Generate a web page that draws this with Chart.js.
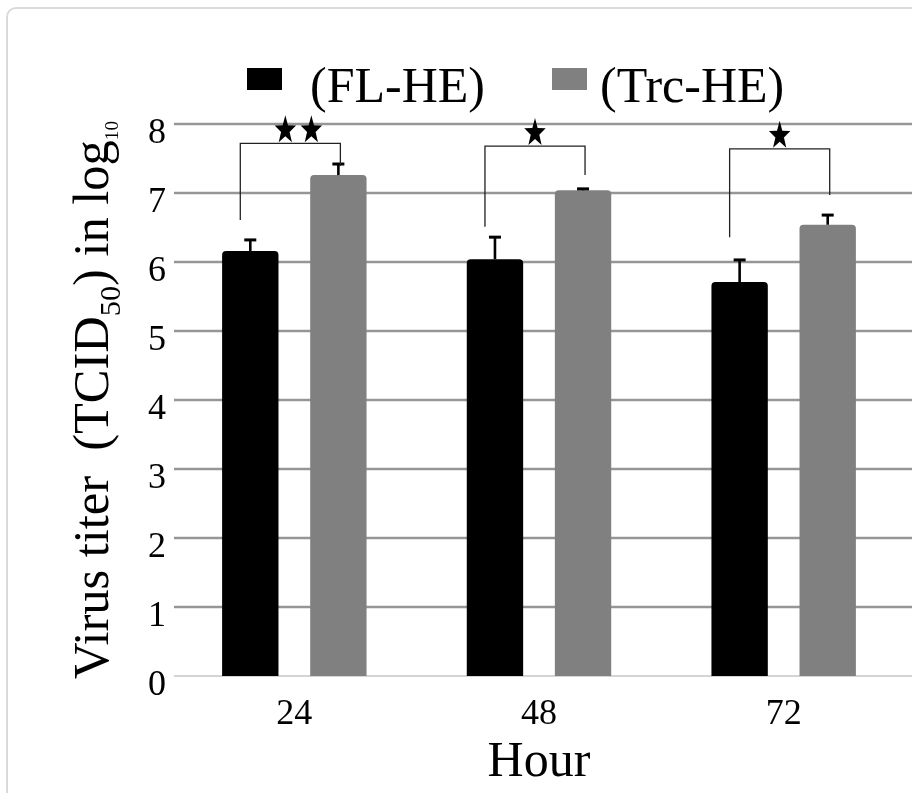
<!DOCTYPE html>
<html><head><meta charset="utf-8">
<script src="https://cdn.jsdelivr.net/npm/chart.js@4.4.1/dist/chart.umd.min.js"></script>
<style>
html,body{margin:0;padding:0;background:#fff;}
#wrap{position:relative;width:912px;height:793px;overflow:hidden;}
#frame{position:absolute;left:6px;top:7px;width:960px;height:840px;border:2px solid #dadada;border-radius:10px;box-sizing:border-box;}
canvas{position:absolute;left:0;top:0;}
</style></head><body>
<div id="wrap"><div id="frame"></div><canvas id="c" width="912" height="793"></canvas></div>
<script>
const categories = ['24', '48', '72'];
const seriesNames = ['(FL-HE)', '(Trc-HE)'];
const flValues = [6.16, 6.04, 5.71];
const trcValues = [7.26, 7.04, 6.54];
const flErrors = [0.16, 0.32, 0.32];
const trcErrors = [0.16, 0.02, 0.14];
const yTickValues = [0, 1, 2, 3, 4, 5, 6, 7, 8];
const bracketTop = [7.72, 7.68, 7.64];
const bracketLeftEnd = [6.61, 6.51, 6.36];
const bracketRightEnd = [7.39, 7.26, 6.97];
const starCounts = [2, 1, 1];
const xTitle = 'Hour';

const SERIF = '"Liberation Serif", "Times New Roman", serif';
const colors = ['#000000', '#808080'];
const errors = [flErrors, trcErrors];

const gridPlugin = {
  id: 'customGrid',
  beforeDatasetsDraw(chart) {
    const {ctx, chartArea, scales} = chart;
    ctx.save();
    yTickValues.forEach(v => {
      const y = scales.y.getPixelForValue(v);
      ctx.beginPath();
      if (v === 0) { ctx.strokeStyle = '#d4d4d4'; ctx.lineWidth = 2; }
      else { ctx.strokeStyle = '#969696'; ctx.lineWidth = 2.6; }
      ctx.moveTo(chartArea.left + 2, y);
      ctx.lineTo(chart.width, y);
      ctx.stroke();
    });
    ctx.restore();
  }
};

const errorPlugin = {
  id: 'errorBars',
  afterDatasetsDraw(chart) {
    const {ctx, scales} = chart;
    ctx.save();
    ctx.strokeStyle = '#000';
    chart.data.datasets.forEach((ds, i) => {
      const meta = chart.getDatasetMeta(i);
      meta.data.forEach((bar, j) => {
        const yTop = scales.y.getPixelForValue(ds.data[j] + errors[i][j]);
        ctx.beginPath();
        ctx.lineWidth = 2.6;
        ctx.moveTo(bar.x, bar.y);
        ctx.lineTo(bar.x, yTop);
        ctx.stroke();
        ctx.beginPath();
        ctx.lineWidth = 3;
        ctx.moveTo(bar.x - 6, yTop);
        ctx.lineTo(bar.x + 6, yTop);
        ctx.stroke();
      });
    });
    ctx.restore();
  }
};

function drawStar(ctx, cx, cy, R) {
  const r = R * 0.4;
  ctx.beginPath();
  for (let k = 0; k < 10; k++) {
    const ang = -Math.PI / 2 + k * Math.PI / 5;
    const rad = k % 2 === 0 ? R : r;
    const px = cx + Math.cos(ang) * rad * 0.75;
    const py = cy + Math.sin(ang) * rad;
    if (k === 0) ctx.moveTo(px, py); else ctx.lineTo(px, py);
  }
  ctx.closePath();
  ctx.fill();
}

const bracketPlugin = {
  id: 'brackets',
  afterDatasetsDraw(chart) {
    const {ctx, scales} = chart;
    const m0 = chart.getDatasetMeta(0), m1 = chart.getDatasetMeta(1);
    ctx.save();
    ctx.strokeStyle = '#222';
    ctx.fillStyle = '#000';
    ctx.lineWidth = 1.3;
    categories.forEach((c, j) => {
      const xl = m0.data[j].x - 10;
      const xr = m1.data[j].x + 2;
      const yt = scales.y.getPixelForValue(bracketTop[j]);
      const yl = scales.y.getPixelForValue(bracketLeftEnd[j]);
      const yr = scales.y.getPixelForValue(bracketRightEnd[j]);
      ctx.beginPath();
      ctx.moveTo(xl, yl); ctx.lineTo(xl, yt); ctx.lineTo(xr, yt); ctx.lineTo(xr, yr);
      ctx.stroke();
      const n = starCounts[j];
      const cx = (xl + xr) / 2 + (n > 1 ? 8 : 0);
      const R = 15;
      const cy = yt - 1 - R * Math.cos(Math.PI / 5);
      for (let s = 0; s < n; s++) {
        drawStar(ctx, cx + (s - (n - 1) / 2) * 26, cy, R);
      }
    });
    ctx.restore();
  }
};

const legendPlugin = {
  id: 'customLegend',
  afterDraw(chart) {
    const {ctx} = chart;
    const boxX = [247, 552], textX = [310, 600];
    ctx.save();
    ctx.font = '50px ' + SERIF;
    ctx.textBaseline = 'alphabetic';
    ctx.textAlign = 'left';
    chart.data.datasets.forEach((ds, i) => {
      ctx.fillStyle = ds.backgroundColor;
      ctx.fillRect(boxX[i], 68, 35, 22);
      ctx.fillStyle = '#000';
      ctx.fillText(ds.label, textX[i], 102);
    });
    ctx.restore();
  }
};

const yTitlePlugin = {
  id: 'yTitle',
  afterDraw(chart) {
    const {ctx, chartArea} = chart;
    const parts = [
      {t: 'Virus titer  (TCID', size: 50, dy: 0},
      {t: '50', size: 30, dy: 12},
      {t: ') in log', size: 50, dy: 0},
      {t: '10', size: 19, dy: 10}
    ];
    ctx.save();
    let total = 0;
    parts.forEach(p => { ctx.font = p.size + 'px ' + SERIF; p.w = ctx.measureText(p.t).width; total += p.w; });
    const cy = (chartArea.top + chartArea.bottom) / 2;
    ctx.translate(108, cy);
    ctx.rotate(-Math.PI / 2);
    const sx = 558 / total;
    ctx.scale(sx, 1);
    let x = -total / 2;
    ctx.fillStyle = '#000';
    ctx.textBaseline = 'alphabetic';
    parts.forEach(p => {
      ctx.font = p.size + 'px ' + SERIF;
      ctx.fillText(p.t, x, p.dy);
      x += p.w;
    });
    ctx.restore();
  }
};

new Chart(document.getElementById('c'), {
  type: 'bar',
  data: {
    labels: categories,
    datasets: [
      {label: seriesNames[0], data: flValues, backgroundColor: colors[0], borderRadius: {topLeft: 4, topRight: 4}, borderSkipped: 'start'},
      {label: seriesNames[1], data: trcValues, backgroundColor: colors[1], borderRadius: {topLeft: 4, topRight: 4}, borderSkipped: 'start'}
    ]
  },
  options: {
    responsive: false,
    animation: false,
    devicePixelRatio: 1,
    layout: {padding: {left: 142, right: 6, top: 124, bottom: 0}},
    datasets: {bar: {categoryPercentage: 0.72, barPercentage: 0.64}},
    plugins: {legend: {display: false}, tooltip: {enabled: false}, title: {display: false}},
    scales: {
      x: {
        grid: {display: false, drawTicks: false},
        border: {display: false},
        ticks: {font: {family: SERIF, size: 36, lineHeight: 1}, color: '#000', padding: 21},
        title: {display: true, text: xTitle, font: {family: SERIF, size: 50, lineHeight: 0.36}, color: '#000', padding: {top: 0, bottom: 21}}
      },
      y: {
        min: 0, max: 8,
        grid: {display: false, drawTicks: false},
        border: {display: false},
        ticks: {stepSize: 1, font: {family: SERIF, size: 36}, color: '#000', padding: 6, labelOffset: 10}
      }
    }
  },
  plugins: [gridPlugin, errorPlugin, bracketPlugin, legendPlugin, yTitlePlugin]
});
</script>
</body></html>
